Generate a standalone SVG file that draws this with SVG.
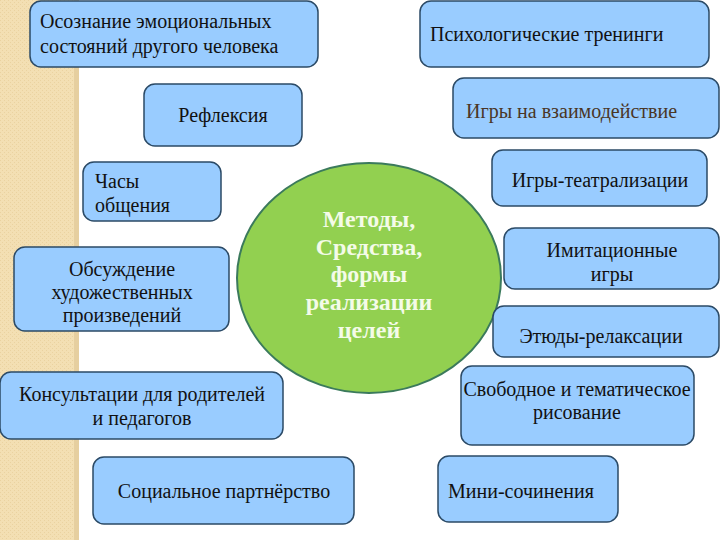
<svg xmlns="http://www.w3.org/2000/svg" width="720" height="540" viewBox="0 0 720 540">
<defs>
<pattern id="tex" width="4" height="4" patternUnits="userSpaceOnUse">
<rect width="4" height="4" fill="#f3dfb3"/>
<rect width="1" height="1" fill="#ead2a0"/>
<rect x="2" y="2" width="1" height="1" fill="#ead2a0"/>
</pattern>
</defs>
<style>
.box{fill:#99ccff;stroke:#2b4a66;stroke-width:1.5}
.t{font-family:"Liberation Serif","DejaVu Serif",serif;font-size:20px;fill:#111}
.c{text-anchor:middle}
.ct{font-family:"Liberation Serif","DejaVu Serif",serif;font-size:24px;font-weight:bold;fill:#f4fbe8;text-anchor:middle}
</style>
<rect width="720" height="540" fill="#ffffff"/>
<rect x="0" y="0" width="78" height="540" fill="url(#tex)"/>
<rect x="74" y="0" width="5" height="540" fill="#e6cfa0"/>
<g id="connectors"></g>
<g id="center">
<ellipse cx="369" cy="278" rx="132" ry="115" fill="#92d050" stroke="#3b7a5c" stroke-width="2"/>
<text class="ct" x="369" y="227">Методы,</text>
<text class="ct" x="369" y="255">Средства,</text>
<text class="ct" x="369" y="282">формы</text>
<text class="ct" x="369" y="310">реализации</text>
<text class="ct" x="369" y="338">целей</text>
</g>
<g id="n1"><rect class="box" x="30" y="1" width="288" height="66" rx="11"/>
<text class="t" x="40" y="28">Осознание эмоциональных</text>
<text class="t" x="40" y="53">состояний другого человека</text></g>
<g id="n2"><rect class="box" x="144" y="84" width="158" height="62" rx="11"/>
<text class="t c" x="223" y="122">Рефлексия</text></g>
<g id="n3"><rect class="box" x="83" y="162" width="138" height="59" rx="11"/>
<text class="t" x="95" y="188">Часы</text>
<text class="t" x="95" y="212">общения</text></g>
<g id="n4"><rect class="box" x="14" y="247" width="215" height="84" rx="11"/>
<text class="t c" x="122" y="276">Обсуждение</text>
<text class="t c" x="122" y="299">художественных</text>
<text class="t c" x="122" y="322">произведений</text></g>
<g id="n5"><rect class="box" x="0" y="372" width="283" height="67" rx="11"/>
<text class="t c" x="142" y="401">Консультации для родителей</text>
<text class="t c" x="142" y="425">и педагогов</text></g>
<g id="n6"><rect class="box" x="93" y="457" width="261" height="67" rx="11"/>
<text class="t c" x="224" y="498">Социальное партнёрство</text></g>
<g id="n7"><rect class="box" x="420" y="1" width="289" height="66" rx="11"/>
<text class="t" x="430" y="41">Психологические тренинги</text></g>
<g id="n8"><rect class="box" x="453" y="78" width="266" height="60" rx="11"/>
<text class="t" x="466" y="118" style="fill:#4a3626">Игры на взаимодействие</text></g>
<g id="n9"><rect class="box" x="492" y="150" width="215" height="56" rx="11"/>
<text class="t c" x="600" y="187">Игры-театрализации</text></g>
<g id="n10"><rect class="box" x="504" y="228" width="215" height="61" rx="11"/>
<text class="t c" x="612" y="257">Имитационные</text>
<text class="t c" x="612" y="281">игры</text></g>
<g id="n11"><rect class="box" x="493" y="306" width="226" height="51" rx="11"/>
<text class="t c" x="601" y="343">Этюды-релаксации</text></g>
<g id="n12"><rect class="box" x="461" y="366" width="233" height="79" rx="11"/>
<text class="t c" x="577" y="396">Свободное и тематическое</text>
<text class="t c" x="577" y="419">рисование</text></g>
<g id="n13"><rect class="box" x="438" y="456" width="180" height="66" rx="11"/>
<text class="t" x="448" y="498">Мини-сочинения</text></g>
</svg>
